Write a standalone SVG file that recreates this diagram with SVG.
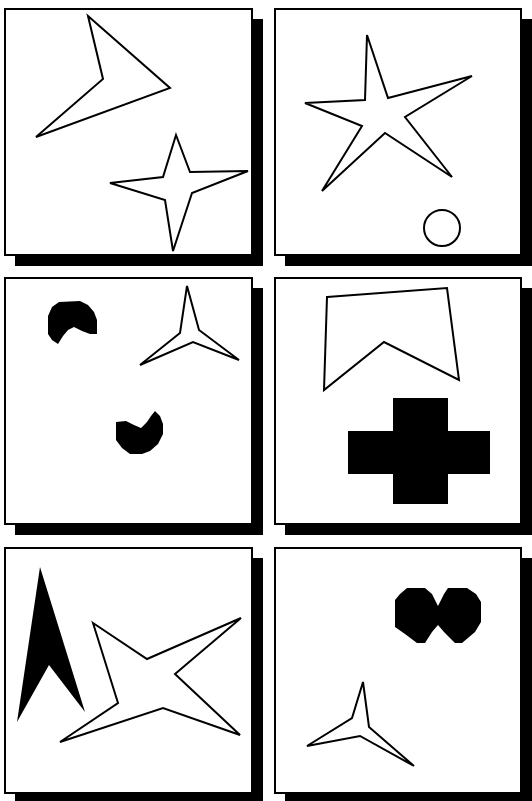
<svg xmlns="http://www.w3.org/2000/svg" width="532" height="801" viewBox="0 0 532 801">
<style>
.shadow{fill:#000}
.box{fill:#fff;stroke:#000;stroke-width:2}
.out{fill:#fff;stroke:#000;stroke-width:2;stroke-linejoin:miter}
.solid{fill:#000;stroke:none}
</style>
<rect width="532" height="801" fill="#fff"/>
<g id="panel1">
<rect class="shadow" x="15" y="19" width="248" height="247"/>
<rect class="box" x="5" y="9" width="247" height="246"/>
<polygon class="out" points="88,16 170,88 36,137 103,79"/>
<polygon class="out" points="176,135 190,172 248,171 192,193 173,251 165,200 110,183 163,177"/>
</g>
<g id="panel2">
<rect class="shadow" x="285" y="19" width="247" height="247"/>
<rect class="box" x="275" y="9" width="246" height="246"/>
<polygon class="out" points="367,35 388,98 472,76 405,117 452,177 385,133 322,191 362,126 305,103 365,100"/>
<circle class="out" cx="442" cy="228" r="18"/>
</g>
<g id="panel3">
<rect class="shadow" x="15" y="288" width="248" height="247"/>
<rect class="box" x="5" y="278" width="247" height="246"/>
<polygon class="solid" points="48,316 52,307 59,302 80,301 88,305 94,312 97,320 97,334 90,334 82,331 74,327 68,330 63,336 58,344 52,340 48,334"/>
<polygon class="out" points="187,286 199,330 239,360 193,342 140,365 180,333"/>
<polygon class="solid" points="116,422 126,421 134,425 141,428 147,422 151,416 155,411 160,416 163,424 163,434 158,444 150,451 142,454 130,454 122,448 116,440"/>
</g>
<g id="panel4">
<rect class="shadow" x="285" y="288" width="247" height="247"/>
<rect class="box" x="275" y="278" width="246" height="246"/>
<polygon class="out" points="327,297 447,288 459,380 384,342 324,390"/>
<polygon class="solid" points="393,398 448,398 448,431 490,431 490,474 448,474 448,504 393,504 393,474 348,474 348,431 393,431"/>
</g>
<g id="panel5">
<rect class="shadow" x="15" y="558" width="248" height="243"/>
<rect class="box" x="5" y="548" width="247" height="245"/>
<polygon class="solid" points="40,567 85,712 49,665 17,722"/>
<polygon class="out" points="93,623 147,659 241,618 175,674 240,735 163,708 60,742 118,703"/>
</g>
<g id="panel6">
<rect class="shadow" x="285" y="558" width="247" height="243"/>
<rect class="box" x="275" y="548" width="246" height="245"/>
<polygon class="solid" points="395,600 400,594 407,588 425,588 432,594 438,606 444,594 448,588 467,588 476,594 481,602 481,622 475,632 462,643 455,643 444,632 438,625 432,632 425,643 417,643 405,634 395,627"/>
<polygon class="out" points="363,682 369,727 414,766 360,736 307,746 352,718"/>
</g>
</svg>
